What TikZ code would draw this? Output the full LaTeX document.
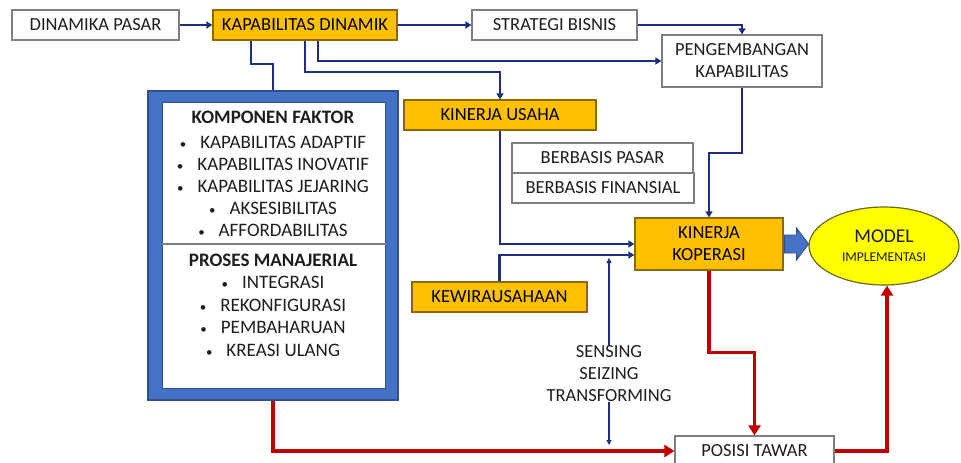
\documentclass[tikz,border=0pt]{standalone}
\usepackage{fontspec}
\setmainfont{Carlito}
\usetikzlibrary{arrows.meta,calc,shapes.geometric}
\definecolor{navy}{HTML}{1F2F7F}
\definecolor{gold}{HTML}{FFC000}
\definecolor{goldline}{HTML}{8C6A00}
\definecolor{boxline}{HTML}{7F7F7F}
\definecolor{txt}{HTML}{1E1E1E}
\definecolor{frameblue}{HTML}{4472C4}
\definecolor{framedark}{HTML}{2F4F8F}
\definecolor{redline}{HTML}{C00000}
\definecolor{ellfill}{HTML}{FFFF00}
\definecolor{ellline}{HTML}{6B6B20}
\newcommand{\bul}{{\fontsize{13}{13}\selectfont\textbullet}\hspace{14pt}}
\tikzset{
  base/.style={rectangle, inner sep=0pt, align=center, text=txt, font=\fontsize{18.5}{22}\selectfont},
  wbox/.style={base, draw=boxline, line width=1.2pt, fill=white},
  ybox/.style={base, draw=goldline, line width=1.2pt, fill=gold, text=black},
  nav/.style={draw=navy, line width=2.2pt, -{Triangle[width=7pt,length=6pt]}},
  navplain/.style={draw=navy, line width=2.2pt},
  thin/.style={draw=navy, line width=1.4pt, -{Triangle[width=5pt,length=5pt]}},
  red/.style={draw=redline, line width=3.5pt, -{Triangle[width=12pt,length=10pt]}},
}
\begin{document}
\begin{tikzpicture}[x=1pt,y=-1pt]
\useasboundingbox (0,0) rectangle (961,463);
% boxes
\node[wbox, minimum width=167pt, minimum height=30pt] (dp) at (95.5,25) {DINAMIKA PASAR};
\node[ybox, minimum width=184pt, minimum height=30pt] (kd) at (305,25) {KAPABILITAS DINAMIK};
\node[wbox, minimum width=165pt, minimum height=30pt] (sb) at (554.5,25) {STRATEGI BISNIS};
\node[wbox, minimum width=160pt, minimum height=52pt, font=\fontsize{18.5}{22}\selectfont] (pk) at (742,61) {PENGEMBANGAN\\KAPABILITAS};
\node[ybox, minimum width=192pt, minimum height=30pt] (ku) at (500,115) {KINERJA USAHA};
\node[wbox, minimum width=181pt, minimum height=30pt] (bp) at (602.5,158) {BERBASIS PASAR};
\node[wbox, minimum width=182pt, minimum height=30pt] (bf) at (603,188) {BERBASIS FINANSIAL};
\node[ybox, minimum width=148pt, minimum height=52pt, font=\fontsize{18.5}{22}\selectfont] (kk) at (709,244) {KINERJA\\KOPERASI};
\node[ybox, minimum width=175pt, minimum height=30pt] (kw) at (499.5,297) {KEWIRAUSAHAAN};
\node[wbox, minimum width=159pt, minimum height=30pt] (pt) at (754.5,451) {POSISI TAWAR};
\node[ellipse, draw=ellline, line width=1.2pt, fill=ellfill, minimum width=150pt, minimum height=78pt, inner sep=0pt, align=center, text=txt, font=\fontsize{19.5}{19}\selectfont] (me) at (884,246)
  {MODEL\\{\fontsize{13.5}{15}\selectfont IMPLEMENTASI}};
% blue frame
\node[rectangle, draw=framedark, line width=1.2pt, fill=frameblue, minimum width=250pt, minimum height=309pt, inner sep=0pt] (bb) at (273,245.5) {};
\node[rectangle, draw=framedark, line width=1pt, fill=white, minimum width=223pt, minimum height=286pt, inner sep=0pt] (bi) at (273.5,245) {};
\draw[boxline, line width=1.2pt] (bi.west |- 0,244) coordinate (d1) -- (bi.east |- 0,244) coordinate (d2);
\node[base, font=\fontsize{19}{22}\selectfont] (kf) at (273,174) {\textbf{KOMPONEN FAKTOR}\\[3pt]
  \bul KAPABILITAS ADAPTIF\\
  \bul KAPABILITAS INOVATIF\\
  \bul KAPABILITAS JEJARING\\
  \bul AKSESIBILITAS\\
  \bul AFFORDABILITAS};
\node[base, font=\fontsize{19}{22.5}\selectfont] (pm) at (273,305) {\textbf{PROSES MANAJERIAL}\\
  \bul INTEGRASI\\
  \bul REKONFIGURASI\\
  \bul PEMBAHARUAN\\
  \bul KREASI ULANG};
% sensing text
\node[base, font=\fontsize{18.5}{22}\selectfont] (se) at (609,374) {SENSING\\SEIZING\\TRANSFORMING};
\coordinate (s1) at (609,258);
\coordinate (s2) at (609,445);
% connectors
\draw[nav] (dp) -- (kd);
\draw[nav] (kd) -- (sb);
\draw[nav] (sb.east) -| (pk.north);
\draw[nav] ([xshift=13pt]kd.south) |- (pk.west);
\draw[nav] (kd.south) -- ++(0,31) -| (ku.north);
\draw[navplain] ([xshift=-54pt]kd.south) -- ++(0,23) -| (bb.north);
\draw[nav] (pk.south) -- ++(0,65) -| (kk.north);
\draw[nav] (ku.south) |- (kk.west);
\draw[nav] (kw.north) |- ([yshift=-11pt]kk.west);
\draw[thin] (se.north) -- (s1);
\draw[thin] (se.south) -- (s2);
\draw[red] (bb.south) |- (pt.west);
\draw[red] (kk.south) -- ++(0,82) -| (pt.north);
\draw[red] (pt.east) -| ([xshift=3pt]me.south);
% block arrow
\draw[draw=framedark, line width=0.8pt, fill=frameblue] ([xshift=1pt]kk.east) ++(0,-9) -- ++(12,0) -- ++(0,-7) -- ++(12,16) -- ++(-12,16) -- ++(0,-7) -- ++(-12,0) -- cycle;
\end{tikzpicture}
\end{document}
